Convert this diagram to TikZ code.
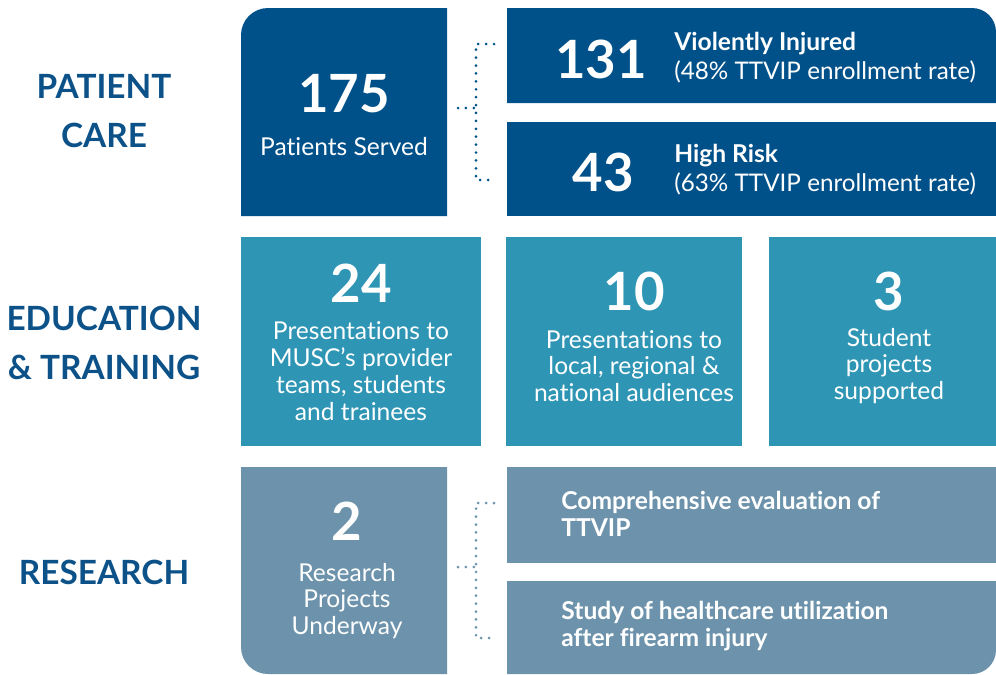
\documentclass[tikz,border=0pt]{standalone}
\usepackage{fontspec}
\setmainfont{Lato}[Ligatures=NoCommon]
\usetikzlibrary{calc}
\definecolor{careblue}{RGB}{0,81,137}
\definecolor{edublue}{RGB}{46,149,181}
\definecolor{resblue}{RGB}{108,147,171}
\definecolor{headblue}{RGB}{12,82,137}
\tikzstyle{num} = [text=white, inner sep=0pt, font=\bfseries\fontsize{30}{30}\selectfont]
\tikzstyle{caption} = [text=white, inner sep=0pt, align=center, font=\fontsize{14}{15.3}\selectfont]
\tikzstyle{note} = [text=white, inner sep=0pt, anchor=west, align=left, font=\bfseries\fontsize{14}{15}\selectfont]
\tikzstyle{rate} = [text=white, inner sep=0pt, anchor=west, font=\fontsize{13.8}{15}\selectfont]
\tikzstyle{head} = [text=headblue, align=center, font=\bfseries\fontsize{19}{28.3}\selectfont]
\tikzstyle{dots} = [line width=1.7pt, dash pattern=on 0pt off 4.5pt, line cap=round]

\begin{document}
\begin{tikzpicture}[x=0.02cm, y=-0.02cm]
        \useasboundingbox (0,0) rectangle (996,674);
        % row headings
        \node[head] (care) at (104,111) {PATIENT\\CARE};
        \node[head] (edu) at (104,343) {EDUCATION\\\& TRAINING};
        \node[head] (res) at (104,572) {RESEARCH};
        % patient care
        \fill[careblue] (241,216) -- (241,35) arc[start angle=180, end angle=270, radius=27] -- (447,8) -- (447,216) -- cycle;
        \fill[careblue] (507,103) -- (507,8) -- (972,8) arc[start angle=270, end angle=360, radius=24] -- (996,103) -- cycle;
        \fill[careblue] (507,122) rectangle (996,216);
        \node[num] (served) at (344,94) {175};
        \node[caption] (servedtxt) at (344,147) {Patients Served};
        \node[num] (injured) at (601,59) {131};
        \node[note] (injuredtxt) at (674,44) {Violently Injured};
        \node[rate] (injuredrate) at (674,72) {(48\% TTVIP enrollment rate)};
        \node[num] (risk) at (603,172) {43};
        \node[note] (risktxt) at (674,156) {High Risk};
        \node[rate] (riskrate) at (674,184) {(63\% TTVIP enrollment rate)};
        \coordinate (carein) at (458,108);
        \coordinate (carejoin) at (476,108);
        \coordinate (caretop) at (476,44);
        \coordinate (carebot) at (476,180);
        \coordinate (carea) at (494,44);
        \coordinate (careb) at (494,180);
        \draw[dots, careblue] (carein) -- (carejoin);
        \draw[dots, careblue] (carea) -- (caretop) -- (carebot) -- (careb);
        % education & training
        \fill[edublue] (241,237) rectangle (481,446);
        \fill[edublue] (506,237) rectangle (742,446);
        \fill[edublue] (769,237) rectangle (996,446);
        \node[num] (musc) at (361,283) {24};
        \node[caption] (musctxt) at (361,371) {Presentations to\\MUSC’s provider\\teams, students\\and trainees};
        \node[num] (talks) at (634,291) {10};
        \node[caption] (talkstxt) at (634,366) {Presentations to\\local, regional \&\\national audiences};
        \node[num] (students) at (889,291) {3};
        \node[caption] (studentstxt) at (889,366) {Student\\projects\\supported};
        % research
        \fill[resblue] (241,467) -- (447,467) -- (447,674) -- (268,674) arc[start angle=90, end angle=180, radius=27] -- cycle;
        \fill[resblue] (507,467) rectangle (996,563);
        \fill[resblue] (507,581) -- (996,581) -- (996,650) arc[start angle=0, end angle=90, radius=24] -- (507,674) -- cycle;
        \node[num] (projects) at (347,521) {2};
        \node[caption] (projectstxt) at (347,601) {Research\\Projects\\Underway};
        \node[note] (evaltxt) at (561,514) {Comprehensive evaluation of\\TTVIP};
        \node[note] (firearmtxt) at (561,626) {Study of healthcare utilization\\after firearm injury};
        \coordinate (resin) at (458,567);
        \coordinate (resjoin) at (476,567);
        \coordinate (restop) at (476,503);
        \coordinate (resbot) at (476,638);
        \coordinate (resa) at (494,503);
        \coordinate (resb) at (494,638);
        \draw[dots, resblue] (resin) -- (resjoin);
        \draw[dots, resblue] (resa) -- (restop) -- (resbot) -- (resb);
    \end{tikzpicture}
\end{document}
